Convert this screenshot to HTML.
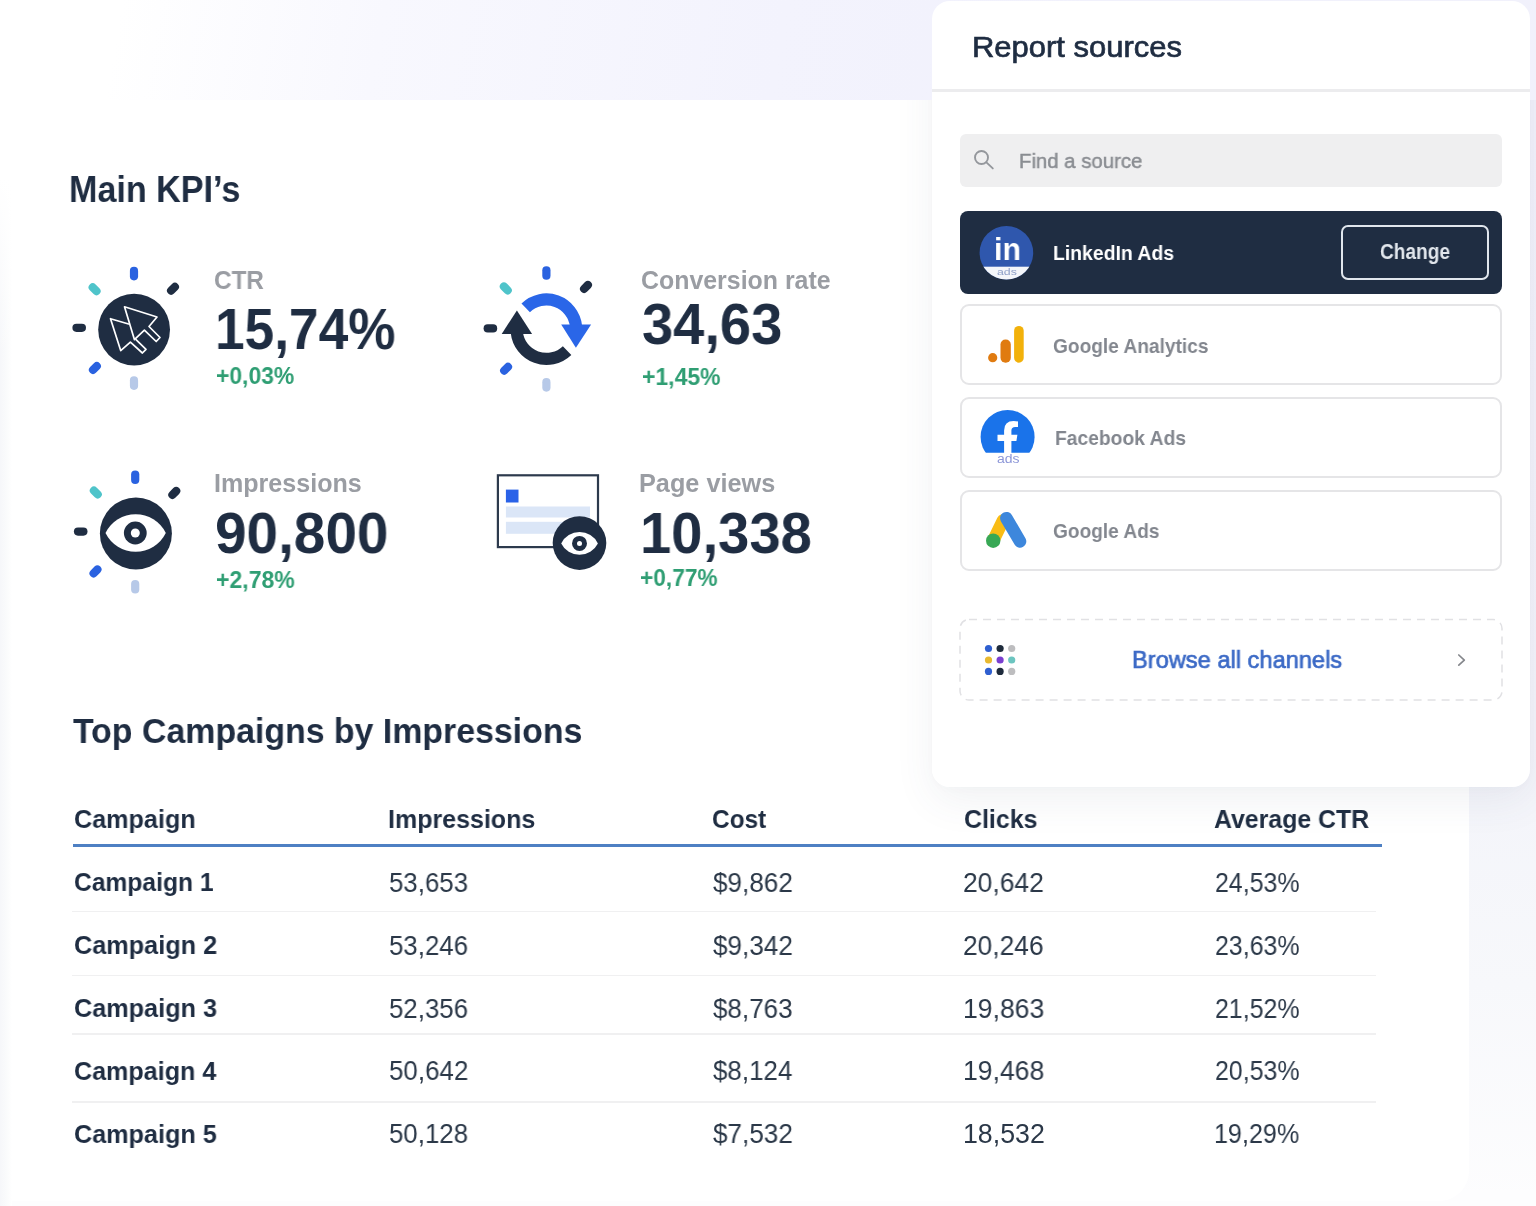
<!DOCTYPE html>
<html><head><meta charset="utf-8"><title>Report</title>
<style>
html,body{margin:0;padding:0;}
body{width:1536px;height:1206px;overflow:hidden;position:relative;background:#fbfbfe;font-family:"Liberation Sans",sans-serif;}
.t{will-change:transform;position:absolute;white-space:nowrap;line-height:1;transform-origin:0 0;display:block;margin:0;padding:0;font-weight:400;}
main,section,aside,.kpi,.thead,.row{display:block;margin:0;padding:0;position:static;}
.a{position:absolute;display:block;}
</style></head><body>
<!-- backgrounds -->
<div class="a" style="left:0;top:0;width:1536px;height:1206px;background:linear-gradient(100deg,#ffffff 0%,#ffffff 7%,#f8f8fe 22%,#f3f3fd 45%,#f1f1fc 62%,#f1f1fb 100%);"></div>
<div class="a" style="left:1440px;top:100px;width:96px;height:1106px;background:linear-gradient(180deg,#f1f1fb 0%,#f3f3fa 58%,#f4f5fa 64%,#f7f8fb 80%,#fdfdfe 100%);"></div>
<div class="a" style="left:0;top:1190px;width:1536px;height:16px;background:#fdfdfe;"></div>
<div class="a" style="left:-40px;top:100px;width:1509px;height:1101px;background:#fff;border-radius:0 0 30px 30px;"></div>
<!-- left-edge -->
<div class="a" style="left:0;top:100px;width:12px;height:1106px;background:linear-gradient(90deg,#f6f7fa 0%,#fafbfc 55%,#ffffff 100%);"></div>
<div class="a" style="left:0;top:100px;width:12px;height:260px;background:linear-gradient(180deg,#ffffff 0%,#ffffff 30%,rgba(255,255,255,0) 100%);"></div>
<!-- right panel -->
<div class="a" style="left:931.5px;top:1px;width:598.7px;height:786.4px;border-radius:18px;box-shadow:0 14px 40px rgba(70,80,110,0.075), 0 2px 8px rgba(70,80,110,0.02);clip-path:inset(99px -90px -110px -90px);"></div>
<div class="a" style="left:931.5px;top:1px;width:598.7px;height:786.4px;background:#fff;border-radius:18px;"></div>
<div class="a" style="left:931.5px;top:89px;width:598.7px;height:3px;background:#ececee;"></div>
<!-- search -->
<div class="a" style="left:960px;top:133.7px;width:542.3px;height:53.8px;background:#efeff0;border-radius:6px;"></div>
<!-- linkedin row -->
<div class="a" style="left:959.5px;top:211px;width:542.5px;height:82.5px;background:#1f2d42;border-radius:8px;"></div>
<div class="a" style="left:1341px;top:224.9px;width:144px;height:51.5px;border:2px solid #e0e6ed;border-radius:7px;"></div>
<!-- other rows -->
<div class="a" style="left:960px;top:303.7px;width:538px;height:77.5px;border:2px solid #e5e5e7;border-radius:9px;background:#fff;"></div>
<div class="a" style="left:960px;top:396.5px;width:538px;height:77.5px;border:2px solid #e5e5e7;border-radius:9px;background:#fff;"></div>
<div class="a" style="left:960px;top:489.5px;width:538px;height:77px;border:2px solid #e5e5e7;border-radius:9px;background:#fff;"></div>
<!-- browse -->
<svg class="a" style="left:955px;top:614px;" width="552" height="92"><rect x="5" y="5.5" width="542" height="80.5" rx="9" fill="#fff" stroke="#e1e1e4" stroke-width="1.5" stroke-dasharray="8 6"/></svg>
<!-- table lines -->
<div class="a" style="left:72.5px;top:844.3px;width:1309.5px;height:3px;background:#4e80c3;"></div>
<div class="a" style="left:72px;top:910.5px;width:1304px;height:1.5px;background:#f0f0f1;"></div>
<div class="a" style="left:72px;top:974.5px;width:1304px;height:1.5px;background:#f0f0f1;"></div>
<div class="a" style="left:72px;top:1033.2px;width:1304px;height:1.5px;background:#f0f0f1;"></div>
<div class="a" style="left:72px;top:1101.2px;width:1304px;height:1.5px;background:#f0f0f1;"></div>

<svg class="a" style="left:0;top:0" width="1536" height="1206" viewBox="0 0 1536 1206">
<line x1="134.0" y1="270.9" x2="134.0" y2="276.3" stroke="#2a62e0" stroke-width="8.2" stroke-linecap="round"/><line x1="171.1" y1="290.6" x2="174.9" y2="286.8" stroke="#1f2d42" stroke-width="8.2" stroke-linecap="round"/><line x1="92.7" y1="287.4" x2="96.5" y2="291.2" stroke="#4fc4ca" stroke-width="8.2" stroke-linecap="round"/><line x1="76.5" y1="327.8" x2="81.9" y2="327.8" stroke="#1f2d42" stroke-width="8.2" stroke-linecap="round"/><line x1="93.0" y1="369.9" x2="96.8" y2="366.1" stroke="#2a62e0" stroke-width="8.2" stroke-linecap="round"/><line x1="134.0" y1="380.4" x2="134.0" y2="385.8" stroke="#b7c9e8" stroke-width="8.2" stroke-linecap="round"/>
<circle cx="134.1" cy="329.6" r="35.9" fill="#1f2d42"/>
<g fill="none" stroke="#ffffff" stroke-width="1.7" stroke-linejoin="round" stroke-linecap="round"><path d="M128.6 324 L110.5 318.7 L120.7 350.6 L130.4 342.2 L142.4 353 L146 349.4 L136 339.7"/><path d="M124.5 306.8 L157 317 L149 326.5 L160 337.5 L156.2 341.5 L144.4 330.2 L134.4 339.6 Z"/></g>
<line x1="546.4" y1="270.3" x2="546.4" y2="275.7" stroke="#2a62e0" stroke-width="8.2" stroke-linecap="round"/><line x1="584.1" y1="288.8" x2="587.9" y2="285.0" stroke="#1f2d42" stroke-width="8.2" stroke-linecap="round"/><line x1="503.9" y1="286.5" x2="507.7" y2="290.3" stroke="#4fc4ca" stroke-width="8.2" stroke-linecap="round"/><line x1="487.7" y1="328.4" x2="493.1" y2="328.4" stroke="#1f2d42" stroke-width="8.2" stroke-linecap="round"/><line x1="504.2" y1="370.6" x2="508.0" y2="366.8" stroke="#2a62e0" stroke-width="8.2" stroke-linecap="round"/><line x1="546.4" y1="382.2" x2="546.4" y2="387.6" stroke="#b7c9e8" stroke-width="8.2" stroke-linecap="round"/>
<path d="M525.7 307.8 A29.8 29.8 0 0 1 576.0 326.1" fill="none" stroke="#2a66e8" stroke-width="12.2"/>
<path d="M561.2 324.6 L591.1 324.6 L575.9 347.8 Z" fill="#2a66e8"/>
<path d="M567.1 350.6 A29.8 29.8 0 0 1 516.8 332.3" fill="none" stroke="#1f2d42" stroke-width="12.2"/>
<path d="M501.7 334 L532.1 334 L516.9 310.4 Z" fill="#1f2d42"/>
<line x1="135.2" y1="474.6" x2="135.2" y2="480.0" stroke="#2a62e0" stroke-width="8.2" stroke-linecap="round"/><line x1="172.4" y1="494.8" x2="176.2" y2="491.0" stroke="#1f2d42" stroke-width="8.2" stroke-linecap="round"/><line x1="93.9" y1="490.6" x2="97.7" y2="494.4" stroke="#4fc4ca" stroke-width="8.2" stroke-linecap="round"/><line x1="78.0" y1="531.6" x2="83.4" y2="531.6" stroke="#1f2d42" stroke-width="8.2" stroke-linecap="round"/><line x1="93.6" y1="573.3" x2="97.4" y2="569.5" stroke="#2a62e0" stroke-width="8.2" stroke-linecap="round"/><line x1="135.2" y1="584.0" x2="135.2" y2="589.4" stroke="#b7c9e8" stroke-width="8.2" stroke-linecap="round"/>
<circle cx="135.9" cy="533.5" r="36" fill="#1f2d42"/>
<path d="M105.5 533 A33.6 33.6 0 0 1 165.8 533 A33.6 33.6 0 0 1 105.5 533 Z" fill="#fff"/>
<circle cx="135.3" cy="533" r="11.4" fill="#1f2d42"/><circle cx="135.3" cy="533" r="4.5" fill="#fff"/>
<rect x="497.9" y="475.3" width="100.1" height="71.8" fill="#fff" stroke="#2d3a4d" stroke-width="2.2"/>
<rect x="505.9" y="489.6" width="12.6" height="12.9" fill="#2a62e8"/>
<rect x="505.9" y="506.5" width="84.1" height="11" fill="#dbe6f7"/>
<rect x="505.9" y="521.8" width="84.1" height="12" fill="#dbe6f7"/>
<circle cx="579.5" cy="543.1" r="26.8" fill="#1f2d42"/>
<path d="M561.2 543.4 A20.5 20.5 0 0 1 597.9 543.4 A20.5 20.5 0 0 1 561.2 543.4 Z" fill="#fff"/>
<circle cx="579.5" cy="543.4" r="7.5" fill="#1f2d42"/><circle cx="579.5" cy="543.4" r="2.5" fill="#fff"/>
<g fill="none" stroke="#94979c" stroke-width="1.9"><circle cx="981.5" cy="157.5" r="6.5"/><path d="M986.4 162.4 L992.8 168.4" stroke-linecap="round"/></g>
<clipPath id="lic"><circle cx="1006.4" cy="252.8" r="26.8"/></clipPath>
<g clip-path="url(#lic)"><rect x="979" y="225" width="56" height="56" fill="#2f57ad"/><rect x="979" y="266.7" width="56" height="14" fill="#f4f6fa"/></g>
<circle cx="992.7" cy="357.7" r="4.6" fill="#e07b10"/>
<rect x="1000.5" y="339.5" width="10.3" height="23.2" rx="5" fill="#e07b10"/>
<rect x="1014.1" y="325.9" width="9.6" height="36.8" rx="4.8" fill="#f2b10a"/>
<clipPath id="fbc"><rect x="975" y="405" width="66" height="47.7"/></clipPath>
<circle cx="1007.6" cy="436.9" r="27" fill="#1a73ea" clip-path="url(#fbc)"/>
<path d="M1004.1 453.2 V441.1 H997.5 V434.8 H1004.1 V430.5 Q1004.1 421 1013.6 421 Q1016 421 1018 421.4 V426.9 H1015.2 Q1011.4 426.9 1011.4 430.6 V434.8 H1017.4 L1016.4 441.1 H1011.4 V453.2 Z" fill="#fff"/>
<line x1="1003" y1="520.5" x2="993.4" y2="540.3" stroke="#f9bc15" stroke-width="12.6" stroke-linecap="round"/>
<line x1="1006.4" y1="518.2" x2="1020" y2="541.4" stroke="#3d87dc" stroke-width="12.6" stroke-linecap="round"/>
<circle cx="993.2" cy="540.7" r="7.2" fill="#38a855"/>
<circle cx="988.5" cy="648.5" r="3.6" fill="#2f5fd0"/>
<circle cx="1000.1" cy="648.5" r="3.6" fill="#1e2b3c"/>
<circle cx="1011.7" cy="648.5" r="3.6" fill="#bdbdbf"/>
<circle cx="988.5" cy="660" r="3.6" fill="#e8b930"/>
<circle cx="1000.1" cy="660" r="3.6" fill="#7a3fd0"/>
<circle cx="1011.7" cy="660" r="3.6" fill="#6cc5c0"/>
<circle cx="988.5" cy="671.4" r="3.6" fill="#2f5fd0"/>
<circle cx="1000.1" cy="671.4" r="3.6" fill="#1e2b3c"/>
<circle cx="1011.7" cy="671.4" r="3.6" fill="#bdbdbf"/>
<path d="M1458.8 655 L1464.3 660.1 L1458.8 665.2" fill="none" stroke="#85878c" stroke-width="1.7" stroke-linecap="round" stroke-linejoin="round"/>
</svg>
<main>
<section class="kpis">
<h2 class="t" style="left:69.08px;top:171.00px;font-size:37.79px;color:#1f2d42;transform:scaleX(0.9029);font-weight:700;">Main KPI’s</h2>
<div class="kpi">
<span class="t" style="left:214.03px;top:269.00px;font-size:24.85px;color:#9a9da3;transform:scaleX(0.9783);font-weight:700;">CTR</span>
<span class="t" style="left:215.41px;top:301.00px;font-size:57.27px;color:#1f2d42;transform:scaleX(0.9295);font-weight:700;">15,74%</span>
<span class="t" style="left:216.08px;top:365.00px;font-size:23.55px;color:#2f9e73;transform:scaleX(0.9720);font-weight:700;">+0,03%</span>
</div><div class="kpi">
<span class="t" style="left:641.20px;top:268.50px;font-size:24.85px;color:#9a9da3;transform:scaleX(1.0024);font-weight:700;">Conversion rate</span>
<span class="t" style="left:642.20px;top:296.20px;font-size:57.27px;color:#1f2d42;transform:scaleX(0.9790);font-weight:700;">34,63</span>
<span class="t" style="left:641.58px;top:365.70px;font-size:23.55px;color:#2f9e73;transform:scaleX(0.9758);font-weight:700;">+1,45%</span>
</div><div class="kpi">
<span class="t" style="left:213.87px;top:472.00px;font-size:24.85px;color:#9a9da3;transform:scaleX(1.0100);font-weight:700;">Impressions</span>
<span class="t" style="left:214.91px;top:504.90px;font-size:57.27px;color:#1f2d42;transform:scaleX(0.9903);font-weight:700;">90,800</span>
<span class="t" style="left:215.58px;top:568.50px;font-size:23.55px;color:#2f9e73;transform:scaleX(0.9784);font-weight:700;">+2,78%</span>
</div><div class="kpi">
<span class="t" style="left:638.86px;top:472.00px;font-size:24.85px;color:#9a9da3;transform:scaleX(1.0165);font-weight:700;">Page views</span>
<span class="t" style="left:640.23px;top:505.00px;font-size:57.27px;color:#1f2d42;transform:scaleX(0.9812);font-weight:700;">10,338</span>
<span class="t" style="left:639.59px;top:566.70px;font-size:23.55px;color:#2f9e73;transform:scaleX(0.9644);font-weight:700;">+0,77%</span>
</div></section>
<section class="campaigns">
<h2 class="t" style="left:72.86px;top:714.30px;font-size:35.61px;color:#1f2d42;transform:scaleX(0.9511);font-weight:700;">Top Campaigns by Impressions</h2>
<div class="thead">
<span class="t" style="left:73.79px;top:807.30px;font-size:25.87px;color:#1f2d42;transform:scaleX(0.9731);font-weight:700;">Campaign</span>
<span class="t" style="left:388.37px;top:807.30px;font-size:25.87px;color:#1f2d42;transform:scaleX(0.9669);font-weight:700;">Impressions</span>
<span class="t" style="left:712.02px;top:807.30px;font-size:25.87px;color:#1f2d42;transform:scaleX(0.9441);font-weight:700;">Cost</span>
<span class="t" style="left:963.50px;top:807.30px;font-size:25.87px;color:#1f2d42;transform:scaleX(0.9647);font-weight:700;">Clicks</span>
<span class="t" style="left:1214.38px;top:807.30px;font-size:25.87px;color:#1f2d42;transform:scaleX(0.9609);font-weight:700;">Average CTR</span>
</div>
<div class="row">
<span class="t" style="left:73.92px;top:870.40px;font-size:25.87px;color:#1f2d42;transform:scaleX(0.9519);font-weight:700;">Campaign 1</span>
<span class="t" style="left:388.97px;top:869.90px;font-size:26.74px;color:#2b3848;transform:scaleX(0.9663);">53,653</span>
<span class="t" style="left:712.74px;top:869.90px;font-size:26.74px;color:#2b3848;transform:scaleX(0.9761);">$9,862</span>
<span class="t" style="left:963.18px;top:869.90px;font-size:26.74px;color:#2b3848;transform:scaleX(0.9880);">20,642</span>
<span class="t" style="left:1214.75px;top:869.90px;font-size:26.74px;color:#2b3848;transform:scaleX(0.9321);">24,53%</span>
</div>
<div class="row">
<span class="t" style="left:73.89px;top:933.20px;font-size:25.87px;color:#1f2d42;transform:scaleX(0.9766);font-weight:700;">Campaign 2</span>
<span class="t" style="left:388.97px;top:932.70px;font-size:26.74px;color:#2b3848;transform:scaleX(0.9663);">53,246</span>
<span class="t" style="left:712.74px;top:932.70px;font-size:26.74px;color:#2b3848;transform:scaleX(0.9761);">$9,342</span>
<span class="t" style="left:963.18px;top:932.70px;font-size:26.74px;color:#2b3848;transform:scaleX(0.9847);">20,246</span>
<span class="t" style="left:1214.75px;top:932.70px;font-size:26.74px;color:#2b3848;transform:scaleX(0.9321);">23,63%</span>
</div>
<div class="row">
<span class="t" style="left:73.89px;top:996.00px;font-size:25.87px;color:#1f2d42;transform:scaleX(0.9757);font-weight:700;">Campaign 3</span>
<span class="t" style="left:388.97px;top:995.50px;font-size:26.74px;color:#2b3848;transform:scaleX(0.9663);">52,356</span>
<span class="t" style="left:712.74px;top:995.50px;font-size:26.74px;color:#2b3848;transform:scaleX(0.9728);">$8,763</span>
<span class="t" style="left:962.51px;top:995.50px;font-size:26.74px;color:#2b3848;transform:scaleX(0.9930);">19,863</span>
<span class="t" style="left:1214.75px;top:995.50px;font-size:26.74px;color:#2b3848;transform:scaleX(0.9321);">21,52%</span>
</div>
<div class="row">
<span class="t" style="left:73.90px;top:1058.80px;font-size:25.87px;color:#1f2d42;transform:scaleX(0.9705);font-weight:700;">Campaign 4</span>
<span class="t" style="left:388.96px;top:1058.30px;font-size:26.74px;color:#2b3848;transform:scaleX(0.9696);">50,642</span>
<span class="t" style="left:712.74px;top:1058.30px;font-size:26.74px;color:#2b3848;transform:scaleX(0.9696);">$8,124</span>
<span class="t" style="left:962.51px;top:1058.30px;font-size:26.74px;color:#2b3848;transform:scaleX(0.9930);">19,468</span>
<span class="t" style="left:1214.75px;top:1058.30px;font-size:26.74px;color:#2b3848;transform:scaleX(0.9321);">20,53%</span>
</div>
<div class="row">
<span class="t" style="left:73.89px;top:1121.60px;font-size:25.87px;color:#1f2d42;transform:scaleX(0.9740);font-weight:700;">Campaign 5</span>
<span class="t" style="left:388.97px;top:1121.10px;font-size:26.74px;color:#2b3848;transform:scaleX(0.9663);">50,128</span>
<span class="t" style="left:712.74px;top:1121.10px;font-size:26.74px;color:#2b3848;transform:scaleX(0.9761);">$7,532</span>
<span class="t" style="left:962.50px;top:1121.10px;font-size:26.74px;color:#2b3848;transform:scaleX(0.9964);">18,532</span>
<span class="t" style="left:1214.12px;top:1121.10px;font-size:26.74px;color:#2b3848;transform:scaleX(0.9392);">19,29%</span>
</div>
</section></main>
<aside class="sources">
<h3 class="t" style="left:972.02px;top:31.80px;font-size:30.23px;color:#1f2d42;transform:scaleX(1.0249);-webkit-text-stroke:0.7px #1f2d42;">Report sources</h3>
<span class="t" style="left:1019.17px;top:150.20px;font-size:21.08px;color:#8a8d92;transform:scaleX(0.9656);-webkit-text-stroke:0.5px #8a8d92;">Find a source</span>
<span class="t" style="left:1052.74px;top:243.40px;font-size:20.93px;color:#ffffff;transform:scaleX(0.9268);font-weight:700;">LinkedIn Ads</span>
<span class="t" style="left:1379.64px;top:240.90px;font-size:21.22px;color:#e1e6ec;transform:scaleX(0.9005);font-weight:700;">Change</span>
<span class="t" style="left:1053.23px;top:335.50px;font-size:20.64px;color:#82868e;transform:scaleX(0.9269);font-weight:700;">Google Analytics</span>
<span class="t" style="left:1055.25px;top:427.50px;font-size:20.64px;color:#82868e;transform:scaleX(0.9342);font-weight:700;">Facebook Ads</span>
<span class="t" style="left:1053.24px;top:520.50px;font-size:20.64px;color:#82868e;transform:scaleX(0.9258);font-weight:700;">Google Ads</span>
<span class="t" style="left:993.88px;top:234.40px;font-size:31.1px;color:#ffffff;transform:scaleX(0.9731);font-weight:700;">in</span>
<span class="t" style="left:997.01px;top:266.70px;font-size:9.45px;color:#8fa0c8;transform:scaleX(1.3029);">ads</span>
<span class="t" style="left:996.64px;top:452.90px;font-size:12.21px;color:#8d97d8;transform:scaleX(1.1471);">ads</span>
<span class="t" style="left:1132.11px;top:647.90px;font-size:24.42px;color:#3c6ac6;transform:scaleX(0.9682);-webkit-text-stroke:0.7px #3c6ac6;">Browse all channels</span>
</aside>
</body></html>
